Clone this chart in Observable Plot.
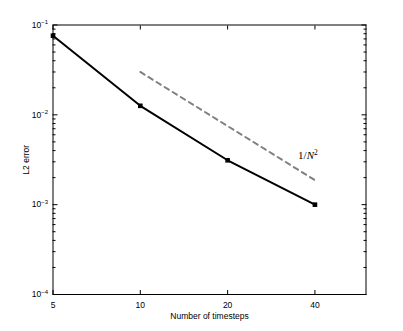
<!DOCTYPE html>
<html><head><meta charset="utf-8">
<script src="https://cdn.jsdelivr.net/npm/d3@7"></script>
<script src="https://cdn.jsdelivr.net/npm/@observablehq/plot@0.6"></script>
<style>
body{margin:0;background:#fff;}
svg{font-family:"Liberation Sans",Arial,sans-serif;}
</style></head>
<body><div id="chart"></div>
<script>
const timesteps = [5, 10, 20, 40];
const l2error = [0.076, 0.0126, 0.00312, 0.001];
const refN = [10, 40];
const refErr = [0.03, 0.001875];
const xTicks = [5, 10, 20, 40];
const yTicks = [1e-1, 1e-2, 1e-3, 1e-4];
const yTickLabels = ["-1", "-2", "-3", "-4"];
const refLabel = "1/N2";

const data = timesteps.map((n, i) => ({n, e: l2error[i]}));
const ref = refN.map((n, i) => ({n, e: refErr[i]}));
const minorY = [];
for (let k = -4; k < -1; k++) for (let m = 2; m <= 9; m++) minorY.push(m * Math.pow(10, k));

const yFmt = d => {
  let best = 0;
  yTicks.forEach((t, i) => { if (Math.abs(Math.log10(t) - Math.log10(d)) < Math.abs(Math.log10(yTicks[best]) - Math.log10(d))) best = i; });
  return "10" + yTickLabels[best];
};

const plot = Plot.plot({
  width: 403, height: 331,
  marginLeft: 52.5, marginRight: 37.5, marginTop: 24.5, marginBottom: 37,
  x: {type: "log", domain: [5, 60]},
  y: {type: "log", domain: [1e-4, 1e-1]},
  style: {fontSize: "8.5px", fontFamily: "Liberation Sans, Arial, sans-serif", color: "#000"},
  marks: [
    Plot.frame({stroke: "#000", strokeWidth: 1}),
    Plot.axisX({ticks: xTicks, anchor: "bottom", tickSize: -4, text: null, label: null}),
    Plot.axisX({ticks: xTicks, anchor: "top", tickSize: -4, text: null, label: null}),
    Plot.axisY({ticks: yTicks, anchor: "left", tickSize: -5, text: null, label: null}),
    Plot.axisY({ticks: yTicks, anchor: "right", tickSize: -5, text: null, label: null}),
    Plot.axisY({ticks: minorY, anchor: "left", tickSize: -3, text: null, label: null}),
    Plot.axisY({ticks: minorY, anchor: "right", tickSize: -3, text: null, label: null}),
    Plot.axisX({ticks: xTicks, anchor: "bottom", tickSize: 0, tickPadding: 7, tickFormat: d => String(d),
      label: "Number of timesteps", labelAnchor: "center", labelArrow: "none", labelOffset: 24}),
    Plot.axisY({ticks: yTicks, anchor: "left", tickSize: 0, tickPadding: 5, tickFormat: yFmt,
      label: "L2 error", labelAnchor: "center", labelArrow: "none", labelOffset: 30}),
    Plot.line(ref, {x: "n", y: "e", stroke: "#808080", strokeWidth: 2, strokeDasharray: "5,4.5"}),
    Plot.line(data, {x: "n", y: "e", stroke: "#000", strokeWidth: 2}),
    Plot.dot(data, {x: "n", y: "e", symbol: "square", r: 2.6, fill: "#000", stroke: "none"}),
    Plot.text([refLabel], {x: 35, y: 0.0036, text: d => d, textAnchor: "start", lineAnchor: "bottom", dy: 4,
      fontFamily: "Liberation Serif, DejaVu Serif, serif", fontSize: 11, className: "reflab"})
  ]
});
document.getElementById("chart").appendChild(plot);

d3.select(plot).selectAll("g[aria-label='y-axis tick label'] text").each(function() {
  const t = this.textContent;
  if (!t.startsWith("10")) return;
  const exp = t.slice(2).replace("-", "\u2212");
  const s = d3.select(this);
  s.text(null);
  s.append("tspan").text("10");
  s.append("tspan").attr("dy", "-0.55em").attr("font-size", "6px").text(exp);
});
d3.select(plot).selectAll(".reflab text").each(function() {
  const s = d3.select(this);
  s.text(null);
  s.append("tspan").text("1/");
  s.append("tspan").attr("font-style", "italic").text("N");
  s.append("tspan").attr("dy", "-0.45em").attr("font-size", "7.5px").text("2");
});
</script></body></html>
